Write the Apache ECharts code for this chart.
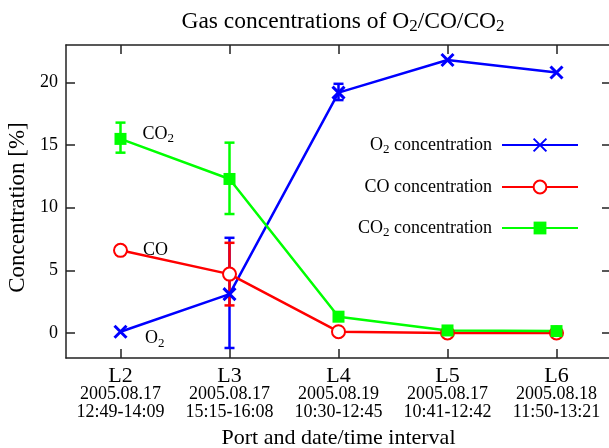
<!DOCTYPE html>
<html>
<head>
<meta charset="utf-8">
<script src="https://cdn.jsdelivr.net/npm/echarts@6/dist/echarts.min.js"></script>
<style>
  html, body { margin: 0; padding: 0; background: #fff; }
  #chart { width: 609px; height: 448px; }
</style>
</head>
<body>
<div id="chart"></div>
<script>
// Sampling ports with date and time interval of each measurement
const ports = ['L2', 'L3', 'L4', 'L5', 'L6'];
const dates = ['2005.08.17', '2005.08.17', '2005.08.19', '2005.08.17', '2005.08.18'];
const times = ['12:49-14:09', '15:15-16:08', '10:30-12:45', '10:41-12:42', '11:50-13:21'];

// Mean concentrations [%]
const o2Values  = [0.1, 3.1, 19.2, 21.8, 20.8];
const coValues  = [6.6, 4.7, 0.1, 0.0, 0.0];
const co2Values = [15.5, 12.3, 1.3, 0.2, 0.15];

// Lower / upper error limits [%] (null where no spread was recorded)
const o2Low   = [null, -1.2, 18.6, null, null];
const o2High  = [null, 7.6, 19.9, null, null];
const coLow   = [6.3, 2.2, null, null, null];
const coHigh  = [6.9, 7.2, null, null, null];
const co2Low  = [14.4, 9.5, null, null, null];
const co2High = [16.8, 15.2, null, null, null];

// Y axis ticks
const yTicks = [0, 5, 10, 15, 20];

const SERIF = '"Liberation Serif", "DejaVu Serif", serif';
const BLUE = '#0000ff', RED = '#ff0000', GREEN = '#00ff00';

function errorData(low, high) {
  const out = [];
  low.forEach((lo, i) => {
    if (lo !== null && high[i] !== null) out.push([i, lo, high[i]]);
  });
  return out;
}

function errorBars(color) {
  return function (params, api) {
    const i = api.value(0);
    const lo = api.coord([i, api.value(1)]);
    const hi = api.coord([i, api.value(2)]);
    const cap = 5;
    const style = { stroke: color, lineWidth: 2.5 };
    return {
      type: 'group',
      children: [
        { type: 'line', shape: { x1: lo[0], y1: lo[1], x2: hi[0], y2: hi[1] }, style },
        { type: 'line', shape: { x1: lo[0] - cap, y1: lo[1], x2: lo[0] + cap, y2: lo[1] }, style },
        { type: 'line', shape: { x1: hi[0] - cap, y1: hi[1], x2: hi[0] + cap, y2: hi[1] }, style }
      ]
    };
  };
}

const subRich = {
  n: { fontFamily: SERIF, fontSize: 18, color: '#000' },
  s: { fontFamily: SERIF, fontSize: 13, color: '#000', padding: [9, 0, 0, 0] }
};

// Attach a species label to the first point of a series
function withFirstLabel(values, text, distance, dy) {
  return values.map((v, i) => i === 0 ? {
    value: v,
    label: {
      show: true, position: 'right', distance: distance, offset: [0, dy],
      formatter: text, rich: subRich
    }
  } : v);
}

const legendNames = {
  'O2 concentration': '{n|O}{s|2}{n| concentration}',
  'CO concentration': '{n|CO concentration}',
  'CO2 concentration': '{n|CO}{s|2}{n| concentration}'
};

const chart = echarts.init(document.getElementById('chart'), null, { renderer: 'canvas' });

const axisLine = { show: true, onZero: false, lineStyle: { color: '#222', width: 1.5 } };
const tickStyle = { color: '#222', width: 1.5 };

chart.setOption({
  animation: false,
  backgroundColor: '#fff',
  title: {
    text: '{t|Gas concentrations of O}{s|2}{t|/CO/CO}{s|2}',
    left: 338,
    textAlign: 'center',
    top: 3,
    textStyle: {
      fontWeight: 'normal',
      rich: {
        t: { fontFamily: SERIF, fontSize: 23.5, fontWeight: 'normal', color: '#000' },
        s: { fontFamily: SERIF, fontSize: 17, fontWeight: 'normal', color: '#000', padding: [10, 0, 0, 0] }
      }
    }
  },
  grid: {
    left: 66, top: 45, width: 545, height: 313,
    containLabel: false, outerBoundsMode: 'none'
  },
  legend: {
    orient: 'vertical',
    right: 25,
    top: 130,
    align: 'right',
    itemWidth: 76,
    itemHeight: 16,
    itemGap: 21,
    selectedMode: false,
    data: ['O2 concentration', 'CO concentration', 'CO2 concentration'],
    formatter: name => legendNames[name],
    textStyle: {
      fontFamily: SERIF, fontSize: 18, color: '#000', lineHeight: 20,
      padding: [0, 5, 0, 0],
      rich: subRich
    }
  },
  xAxis: [
    {
      type: 'category',
      data: ports,
      boundaryGap: true,
      position: 'bottom',
      axisLine: axisLine,
      axisTick: { show: true, inside: true, length: 9, alignWithLabel: true, lineStyle: tickStyle },
      axisLabel: {
        margin: 9,
        formatter: (v, i) => `{p|${v}}\n{d|${dates[i]}}\n{d|${times[i]}}`,
        rich: {
          p: { fontFamily: SERIF, fontSize: 22, color: '#000', lineHeight: 18 },
          d: { fontFamily: SERIF, fontSize: 18, color: '#000', lineHeight: 18.5 }
        }
      },
      name: 'Port and date/time interval',
      nameLocation: 'middle',
      nameGap: 69,
      nameTextStyle: { fontFamily: SERIF, fontSize: 22, color: '#000' },
      splitLine: { show: false }
    },
    {
      type: 'category',
      data: ports,
      boundaryGap: true,
      position: 'top',
      axisLine: axisLine,
      axisTick: { show: true, inside: true, length: 9, alignWithLabel: true, lineStyle: tickStyle },
      axisLabel: { show: false },
      splitLine: { show: false }
    }
  ],
  yAxis: [
    {
      type: 'value',
      min: -2,
      max: 23,
      position: 'left',
      axisLine: axisLine,
      axisTick: { show: true, inside: true, length: 9, customValues: yTicks, lineStyle: tickStyle },
      axisLabel: {
        customValues: yTicks,
        margin: 8,
        fontFamily: SERIF, fontSize: 18, color: '#000'
      },
      splitLine: { show: false },
      name: 'Concentration [%]',
      nameLocation: 'middle',
      nameGap: 37,
      nameRotate: 90,
      nameTextStyle: { fontFamily: SERIF, fontSize: 23, color: '#000', padding: [0, 12, 0, 0] }
    },
    {
      type: 'value',
      min: -2,
      max: 23,
      position: 'right',
      axisLine: axisLine,
      axisTick: { show: true, inside: true, length: 9, customValues: yTicks, lineStyle: tickStyle },
      axisLabel: { show: false },
      splitLine: { show: false }
    }
  ],
  series: [
    {
      name: 'O2 concentration',
      type: 'line',
      data: withFirstLabel(o2Values, '{n|O}{s|2}', 17, 7),
      symbol: 'path://M0,0L10,10M10,0L0,10',
      symbolSize: 12,
      showAllSymbol: true,
      lineStyle: { color: BLUE, width: 2.5 },
      itemStyle: { color: BLUE, borderColor: BLUE, borderWidth: 3 }
    },
    {
      type: 'custom',
      name: 'O2 error',
      z: 3,
      renderItem: errorBars(BLUE),
      data: errorData(o2Low, o2High),
      encode: { x: 0, y: [1, 2] }
    },
    {
      name: 'CO concentration',
      type: 'line',
      data: withFirstLabel(coValues, '{n|CO}', 15, 0),
      symbol: 'emptyCircle',
      symbolSize: 13,
      showAllSymbol: true,
      lineStyle: { color: RED, width: 2.5 },
      itemStyle: { color: RED, borderColor: RED, borderWidth: 2 }
    },
    {
      type: 'custom',
      name: 'CO error',
      z: 3,
      renderItem: errorBars(RED),
      data: errorData(coLow, coHigh),
      encode: { x: 0, y: [1, 2] }
    },
    {
      name: 'CO2 concentration',
      type: 'line',
      data: withFirstLabel(co2Values, '{n|CO}{s|2}', 16, -5),
      symbol: 'rect',
      symbolSize: 12,
      showAllSymbol: true,
      lineStyle: { color: GREEN, width: 2.5 },
      itemStyle: { color: GREEN, borderColor: GREEN, borderWidth: 0 }
    },
    {
      type: 'custom',
      name: 'CO2 error',
      z: 3,
      renderItem: errorBars(GREEN),
      data: errorData(co2Low, co2High),
      encode: { x: 0, y: [1, 2] }
    }
  ]
});
</script>
</body>
</html>
